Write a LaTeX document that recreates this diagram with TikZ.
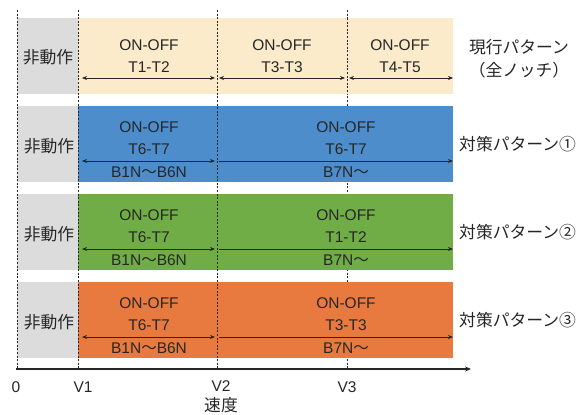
\documentclass[tikz,border=0pt]{standalone}
\usepackage{fontspec}
\setmainfont{Liberation Sans}
\newfontfamily\cjk{Noto Sans CJK JP}
\usetikzlibrary{arrows.meta}
\definecolor{txt}{HTML}{262626}
\definecolor{beige}{HTML}{FBEBCB}
\definecolor{bandblue}{HTML}{4D8DCB}
\definecolor{bandgreen}{HTML}{70AD47}
\definecolor{bandorange}{HTML}{E97A3F}
\definecolor{bandgrey}{HTML}{DCDCDC}
\tikzset{
  lbl/.style={text=txt, font=\fontsize{15.5}{17}\selectfont, inner sep=0pt, anchor=center},
  jlbl/.style={text=txt, font=\cjk\fontsize{16.8}{18}\selectfont, inner sep=0pt},
  vdash/.style={draw=txt, line width=0.7pt, dash pattern=on 2pt off 1.6pt},
  dim/.style={draw=txt, line width=0.8pt, {Stealth[length=5pt,width=4pt]}-{Stealth[length=5pt,width=4pt]}},
  dimr/.style={draw=txt, line width=0.8pt, -{Stealth[length=5pt,width=4pt]}},
}
\newcommand{\wave}{{\cjk ～}}
\begin{document}
\begin{tikzpicture}[x=1pt,y=-1pt]
\useasboundingbox (0,0) rectangle (587,415);
% V3 line (hidden behind the lower bands)
\coordinate (v3) at (347,10); \coordinate (v3b) at (347,369);
\draw[vdash] (v3) -- (v3b);
% bands
\fill[bandgrey] (17,18) rectangle (78,94);
\fill[beige] (78,18) rectangle (453,94);
\draw[vdash] (347,18) -- (347,94);
\foreach \y/\c in {106/bandblue,194/bandgreen,282/bandorange}{
  \fill[bandgrey] (17,\y) rectangle (78,\y+76);
  \fill[\c] (78,\y) rectangle (453,\y+76);
}
% dashed verticals
\coordinate (z0) at (17,10); \coordinate (z0b) at (17,369);
\coordinate (v1) at (78,10); \coordinate (v1b) at (78,369);
\coordinate (v2) at (217,10); \coordinate (v2b) at (217,369);
\draw[vdash] (z0) -- (z0b);
\draw[vdash] (v1) -- (v1b);
\draw[vdash] (v2) -- (v2b);
% axis
\coordinate (ax0) at (16,369); \coordinate (ax1) at (471,369);
\draw[draw=txt, line width=1.2pt, -{Stealth[length=6pt,width=5pt]}] (ax0) -- (ax1);
\node[lbl] (l0) at (16,387) {0};
\node[lbl] (lv1) at (83,387) {V1};
\node[lbl] (lv2) at (221,386) {V2};
\node[jlbl] (lsp) at (221,405) {速度};
\node[lbl] (lv3) at (347,387) {V3};
% row 1
\node[jlbl] (n1) at (48,57) {非動作};
\node[lbl] (a1) at (149,45) {ON-OFF};
\node[lbl] (b1) at (149,67) {T1-T2};
\node[lbl] (a2) at (282,45) {ON-OFF};
\node[lbl] (b2) at (282,67) {T3-T3};
\node[lbl] (a3) at (400,45) {ON-OFF};
\node[lbl] (b3) at (400,67) {T4-T5};
\coordinate (r1a) at (82,78); \coordinate (r1b) at (215,78);
\coordinate (r1c) at (219,78); \coordinate (r1d) at (345,78);
\coordinate (r1e) at (349,78); \coordinate (r1f) at (453,78);
\draw[dim] (r1a) -- (r1b);
\draw[dim] (r1c) -- (r1d);
\draw[dim] (r1e) -- (r1f);
\node[jlbl] (p1) at (519,47) {現行パターン};
\node[jlbl] (p1b) at (519,70) {（全ノッチ）};
% rows 2-4
\foreach \y/\t/\k in {0/T6-T7/2,88/T1-T2/3,176/T3-T3/4}{
  \node[jlbl] (n\k) at (49,146+\y) {非動作};
  \node[lbl] (c\k) at (149,127+\y) {ON-OFF};
  \node[lbl] (d\k) at (149,149+\y) {T6-T7};
  \node[lbl] (e\k) at (149,172+\y) {B1N\wave B6N};
  \node[lbl] (f\k) at (346,127+\y) {ON-OFF};
  \node[lbl] (g\k) at (346,149+\y) {\t};
  \node[lbl] (h\k) at (346,172+\y) {B7N\wave};
  \coordinate (s\k a) at (82,161+\y); \coordinate (s\k b) at (215,161+\y);
  \coordinate (s\k c) at (219,161+\y); \coordinate (s\k d) at (453,161+\y);
  \draw[dim] (s\k a) -- (s\k b);
  \draw[dimr] (s\k c) -- (s\k d);
}
\node[jlbl, anchor=west] (p2) at (459,144) {対策パターン①};
\node[jlbl, anchor=west] (p3) at (459,232) {対策パターン②};
\node[jlbl, anchor=west] (p4) at (459,320) {対策パターン③};
\end{tikzpicture}
\end{document}
